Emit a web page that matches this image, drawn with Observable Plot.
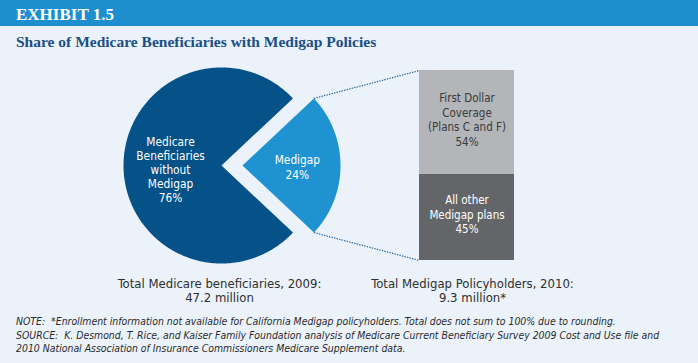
<!DOCTYPE html>
<html><head><meta charset="utf-8">
<script src="https://cdn.jsdelivr.net/npm/d3@7"></script>
<script src="https://cdn.jsdelivr.net/npm/@observablehq/plot@0.6"></script>
<style>
html,body{margin:0;padding:0;background:#EBF2FA;width:698px;height:363px;overflow:hidden;position:relative}
.abs{position:absolute;left:16px;white-space:nowrap}
#hdr{position:absolute;left:0;top:0;width:698px;height:26px;background:#1E8FCE}
#exh{top:6px;color:#fff;font:bold 17px/17px "Liberation Serif",serif}
#ttl{top:34px;color:#1B4F85;font:bold 15.5px/15.5px "Liberation Serif",serif}
#chart{position:absolute;left:0;top:56px}
#notes{top:315px;color:#2a2a2a;font:italic 10.4px/13.5px "Liberation Sans Narrow","DejaVu Sans Condensed",sans-serif}
</style></head>
<body>
<div id="hdr"></div>
<div id="exh" class="abs">EXHIBIT 1.5</div>
<div id="ttl" class="abs">Share of Medicare Beneficiaries with Medigap Policies</div>
<div id="chart"></div>
<div id="notes" class="abs">NOTE:&nbsp; *Enrollment information not available for California Medigap policyholders. Total does not sum to 100% due to rounding.<br>SOURCE:&nbsp; K. Desmond, T. Rice, and Kaiser Family Foundation analysis of Medicare Current Beneficiary Survey 2009 Cost and Use file and<br>2010 National Association of Insurance Commissioners Medicare Supplement data.</div>
<script>
// ---- data ----
const pieNames = ["Medicare\nBeneficiaries\nwithout\nMedigap", "Medigap"];
const pieShares = [76, 24];
const barNames = ["All other\nMedigap plans", "First Dollar\nCoverage\n(Plans C and F)"];
const barShares = [45, 54];
const totalLabels = ["Total Medicare beneficiaries, 2009:\n47.2 million", "Total Medigap Policyholders, 2010:\n9.3 million*"];

// ---- layout (styles, not data) ----
const W = 698, H = 252;
const FONT = '"Liberation Sans Narrow","DejaVu Sans Condensed",sans-serif';
const barTotal = d3.sum(barShares);
const k = 190 / barTotal;            // px per unit
const cx = 221 / k, cy = barTotal / 2, r = 98 / k, explode = 21 / k;
const bx0 = 419 / k, bx1 = 514 / k;
const pieColors = ["#045288", "#1F93D2"];
const barColors = ["#646569", "#B3B5B8"];
const barText = ["#ffffff", "#3a3a3a"];

// pie slices (Medigap centred on angle 0, rest wraps around)
const total = d3.sum(pieShares);
const half = Math.PI * pieShares[1] / total;
const slices = [
  {i: 0, a0: half, a1: 2 * Math.PI - half, ex: 0},
  {i: 1, a0: -half, a1: half, ex: explode}
];
const pts = [];
for (const s of slices) {
  const mid = (s.a0 + s.a1) / 2;
  const ox = cx + s.ex * Math.cos(mid), oy = cy + s.ex * Math.sin(mid);
  pts.push({slice: s.i, x: ox, y: oy});
  const n = 360;
  for (let j = 0; j <= n; j++) {
    const a = s.a0 + (s.a1 - s.a0) * j / n;
    pts.push({slice: s.i, x: ox + r * Math.cos(a), y: oy + r * Math.sin(a)});
  }
  pts.push({slice: s.i, x: ox, y: oy});
  s.ox = ox; s.oy = oy; s.mid = mid;
}
const pieLabelData = slices.map((s, i) => ({
  x: s.ox + (i === 0 ? 0.52 : 0.56) * r * Math.cos(s.mid),
  y: s.oy + (i === 0 ? 0.52 : 0.56) * r * Math.sin(s.mid),
  text: pieNames[i] + "\n" + pieShares[i] + "%",
  dy: i === 0 ? 4 : 1.5
}));

// connectors from Medigap slice edge to the bar
const m = slices[1];
const links = [
  {x1: m.ox + r * Math.cos(half), y1: m.oy + r * Math.sin(half), x2: bx0, y2: barTotal},
  {x1: m.ox + r * Math.cos(-half), y1: m.oy + r * Math.sin(-half), x2: bx0, y2: 0}
];

const barData = barNames.map((n, i) => ({name: n, share: barShares[i], color: barColors[i], tc: barText[i]}));
let acc = 0;
const barLabelData = barData.map(d => { const y = acc + d.share / 2; acc += d.share; return {x: (bx0 + bx1) / 2, y, text: d.name + "\n" + d.share + "%", tc: d.tc}; });

const totalsData = [
  {x: 219 / k, text: totalLabels[0]},
  {x: 472 / k, text: totalLabels[1]}
];

const chart = Plot.plot({
  width: W, height: H,
  margin: 0,
  style: {background: "transparent", fontFamily: FONT},
  x: {domain: [0, W / k], range: [0, W], axis: null},
  y: {domain: [0, barTotal], range: [204, 14], axis: null},
  marks: [
    Plot.line(pts, {x: "x", y: "y", z: "slice", fill: d => pieColors[d.slice], stroke: null, curve: "linear"}),
    Plot.link(links, {x1: "x1", y1: "y1", x2: "x2", y2: "y2", stroke: "#2468A0", strokeWidth: 1.2, strokeDasharray: "1.4,1.2"}),
    Plot.rectY(barData, {x1: () => bx0, x2: () => bx1, y: "share", fill: "color"}),
    Plot.text(pieLabelData.slice(0, 1), {x: "x", y: "y", text: "text", dy: 4, fill: "#ffffff", fontSize: 11.8, lineHeight: 1.2}),
    Plot.text(pieLabelData.slice(1), {x: "x", y: "y", text: "text", dy: 1.5, fill: "#ffffff", fontSize: 11.8, lineHeight: 1.2}),
    Plot.text(barLabelData, {x: "x", y: "y", text: "text", dy: -3, fill: "tc", fontSize: 11.5, lineHeight: 1.26}),
    Plot.text(totalsData, {x: "x", y: () => cy, dy: 125, text: "text", fill: "#2f2f2f", fontSize: 13, lineHeight: 1.08})
  ]
});
document.getElementById("chart").appendChild(chart);
</script>
</body></html>
